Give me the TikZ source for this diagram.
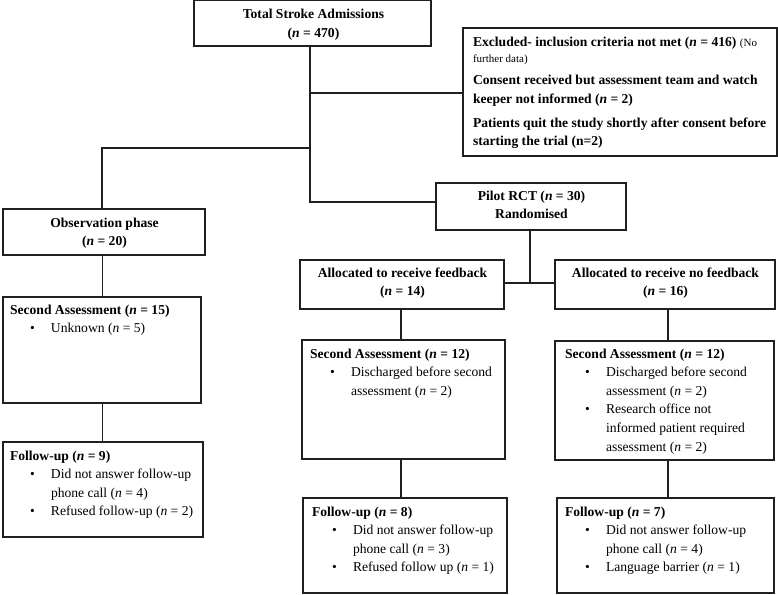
\documentclass[tikz,border=0pt]{standalone}
\usepackage{fontspec}
\setmainfont{Liberation Serif}
\usetikzlibrary{fit}
\newcommand\nn{\textit{n}}
\newcommand\hd[1]{\hbox{\bfseries #1}}
\newcommand\ih[1]{\hbox{\hspace*{20pt}\makebox[21pt][l]{\textbullet}#1}}
\newcommand\ic[1]{\hbox{\hspace*{41pt}#1}}
\newcommand\cl[1]{\hbox to 0pt{\hss\bfseries #1\hss}}
\newcommand\blk[1]{\vtop{\baselineskip=18.6pt\lineskiplimit=-30pt\relax #1}}
\newcommand\cblk[1]{\vtop{\baselineskip=18pt\lineskiplimit=-30pt\relax #1}}
\tikzset{
  box/.style={draw=black!88, line width=1.1pt, inner sep=0pt, outer sep=0pt, rectangle},
  txt/.style={inner sep=0pt, outer sep=0pt, anchor=base west, font=\fontsize{13.6}{18.6}\selectfont},
  conn/.style={draw=black!88, line width=1.1pt}
}
\begin{document}
\begin{tikzpicture}[x=1pt,y=-1pt]
\useasboundingbox (0,0) rectangle (778,594);
% boxes
\node[box, fit={(194,0.5) (431,46)}] (total) {};
\node[box, fit={(463,28) (777,156)}] (excl) {};
\node[box, fit={(436,183) (626,230)}] (pilot) {};
\node[box, fit={(3,209) (205,255)}] (obs) {};
\node[box, fit={(300,260) (504,309)}] (fb) {};
\node[box, fit={(555,260) (775,309)}] (nofb) {};
\node[box, fit={(3,297) (201,403)}] (saL) {};
\node[box, fit={(302,340) (505,459)}] (saM) {};
\node[box, fit={(555,341) (774,460)}] (saR) {};
\node[box, fit={(3,442) (203,537)}] (fuL) {};
\node[box, fit={(303,498) (507,593)}] (fuM) {};
\node[box, fit={(557,498) (774,593)}] (fuR) {};
% centred texts
\node[txt] (tTotal) at (313,18.5) {\cblk{\cl{Total Stroke Admissions}\vskip1pt\cl{(\nn{} = 470)}}};
\node[txt] (tPilot) at (531,200) {\cblk{\cl{Pilot RCT (\nn{} = 30)}\cl{Randomised}}};
\node[txt] (tObs) at (104,227) {\cblk{\cl{Observation phase}\cl{(\nn{} = 20)}}};
\node[txt] (tFb) at (402,277) {\cblk{\cl{Allocated to receive feedback}\cl{(\nn{} = 14)}}};
\node[txt] (tNofb) at (665,277) {\cblk{\cl{Allocated to receive no feedback}\cl{(\nn{} = 16)}}};
% texts
\node[txt] (tEx) at (473,46) {\vtop{\baselineskip=18pt\lineskiplimit=-30pt\bfseries
\hbox{Excluded- inclusion criteria not met (\nn{} = 416) {\mdseries\fontsize{11}{13}\selectfont(No}}
\vskip-1pt
\hbox{\mdseries\fontsize{11}{13}\selectfont further data)}
\vskip3pt
\hbox{Consent received but assessment team and watch}
\vskip1pt
\hbox{keeper not informed (\nn{} = 2)}
\vskip6pt
\hbox{Patients quit the study shortly after consent before}
\hbox{starting the trial (n=2)}}};
\node[txt] (tSaL) at (10,314) {\blk{\hd{Second Assessment (\nn{} = 15)}\ih{Unknown (\nn{} = 5)}}};
\node[txt] (tSaM) at (310,358) {\blk{\hd{Second Assessment (\nn{} = 12)}\ih{Discharged before second}\ic{assessment (\nn{} = 2)}}};
\node[txt] (tSaR) at (565,358) {\blk{\hd{Second Assessment (\nn{} = 12)}\ih{Discharged before second}\ic{assessment (\nn{} = 2)}\ih{Research office not}\ic{informed patient required}\ic{assessment (\nn{} = 2)}}};
\node[txt] (tFuL) at (10,460) {\blk{\hd{Follow-up (\nn{} = 9)}\ih{Did not answer follow-up}\ic{phone call (\nn{} = 4)}\ih{Refused follow-up (\nn{} = 2)}}};
\node[txt] (tFuM) at (312,516) {\blk{\hd{Follow-up (\nn{} = 8)}\ih{Did not answer follow-up}\ic{phone call (\nn{} = 3)}\ih{Refused follow up (\nn{} = 1)}}};
\node[txt] (tFuR) at (565,516) {\blk{\hd{Follow-up (\nn{} = 7)}\ih{Did not answer follow-up}\ic{phone call (\nn{} = 4)}\ih{Language barrier (\nn{} = 1)}}};
% junctions
\coordinate (j1) at (310,93);
\coordinate (j2) at (310,148);
\coordinate (j3) at (102,148);
\coordinate (j4) at (310,202);
\coordinate (j6) at (530,283);
\coordinate (cL) at (102.5,0);
\coordinate (cM) at (401,0);
\coordinate (cR) at (668,0);
% connectors
\draw[conn] (total.south -| j1) -- (j4) -- (j4 -| pilot.west);
\draw[conn] (j1) -- (j1 -| excl.west);
\draw[conn] (j2) -- (j3) -- (j3 |- obs.north);
\draw[conn] (obs.south -| cL) -- (saL.north -| cL);
\draw[conn] (saL.south -| cL) -- (fuL.north -| cL);
\draw[conn] (pilot.south -| j6) -- (j6);
\draw[conn] (fb.east |- j6) -- (nofb.west |- j6);
\draw[conn] (fb.south -| cM) -- (saM.north -| cM);
\draw[conn] (saM.south -| cM) -- (fuM.north -| cM);
\draw[conn] (nofb.south -| cR) -- (saR.north -| cR);
\draw[conn] (saR.south -| cR) -- (fuR.north -| cR);
\end{tikzpicture}
\end{document}
